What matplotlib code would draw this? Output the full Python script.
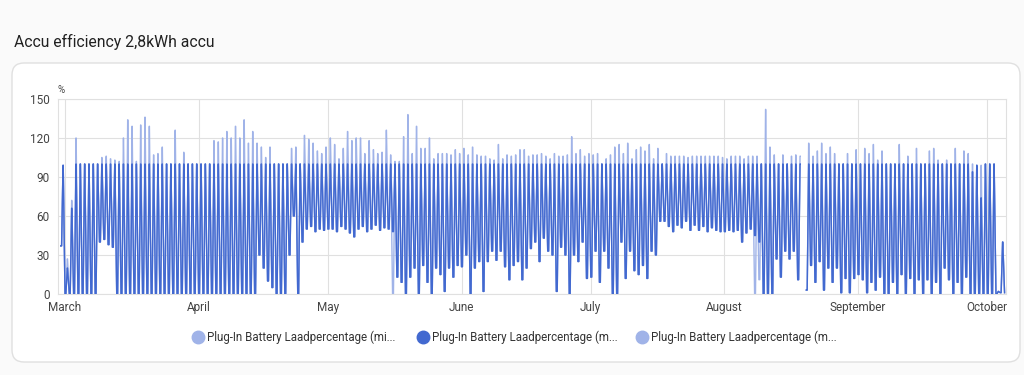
import matplotlib
matplotlib.use("Agg")
import matplotlib.pyplot as plt
import matplotlib.dates as mdates
from matplotlib.patches import FancyBboxPatch
import numpy as np
import pandas as pd

plt.rcParams['font.family'] = ['Roboto', 'DejaVu Sans']

title = "Accu efficiency 2,8kWh accu"
unit = "%"
legend_labels = ["Plug-In Battery Laadpercentage (mi...",
                 "Plug-In Battery Laadpercentage (m...",
                 "Plug-In Battery Laadpercentage (m..."]
start_date = "2023-02-28"
y_ticks = [0, 30, 60, 90, 120, 150]

nan = float('nan')

# daily low of the mean series (Feb 28 .. Oct 4)
daily_low = [
    37,  # Feb 28
    # March
    0, 0, 0, 0, 0, 0, 0, 0, 40, 42, 38, 36, 0, 0, 0, 0, 0, 0, 0, 0, 0, 0, 0, 0, 0, 0, 0, 0, 0, 0, 0,
    # April
    0, 0, 0, 0, 0, 0, 0, 0, 0, 0, 0, 0, 0, 0, 30, 20, 10, 5, 0, 0, 0, 30, 60, 0, 40, 50, 52, 48, 50, 49,
    # May
    50, 50, 48, 52, 50, 47, 44, 50, 52, 48, 50, 53, 49, 51, 50, 48, 13, 9, 0, 13, 20, 0, 22, 9, 0, 20, 15, 2, 20, 13, 22,
    # June
    21, 30, 0, 20, 25, 2, 25, 33, 26, 33, 21, 11, 22, 25, 11, 20, 35, 40, 25, 43, 33, 30, 2, 36, 30, 0, 30, 25, 40, 12,
    # July
    13, 33, 9, 33, 20, 0, 0, 40, 12, 33, 18, 15, 22, 12, 33, 30, 56, 56, 52, 48, 53, 51, 56, 49, 53, 49, 52, 48, 51, 49, 48,
    # August
    48, 49, 48, 49, 40, 47, 50, 45, 40, 0, 0, 0, 27, 13, 33, 27, 33, 11, nan, 3, 22, 9, 25, 3, 20, 9, 20, 1, 12, 1, 12,
    # September
    15, 11, 1, 9, 3, 13, 0, 0, 9, 0, 15, 0, 12, 0, 11, 0, 11, 0, 9, 0, 20, 11, 0, 9, 0, 13, 0, 0, 0, 0,
    # October
    0, 0, 0, 1,
]

# daily high of the mean series
daily_high = (
    [99]                                   # Feb 28
    + [20, 66] + [100] * 29                # March
    + [100] * 30                           # April
    + [100] * 31                           # May
    + [100] * 30                           # June
    + [100] * 31                           # July
    + [100] * 18 + [nan] + [100] * 12      # August
    + [100] * 26 + [94, 99, 74, 100]       # September
    + [100, 100, 2, 40]                    # October
)

# daily peak of the max series
daily_peak = [
    99,  # Feb 28
    # March
    27, 72, 120, 100, 100, 100, 100, 100, 105, 106, 104, 103, 102, 120, 134, 129, 102, 130, 136, 129,
    107, 108, 113, 100, 100, 126, 100, 109, 100, 100, 100,
    # April
    100, 100, 100, 118, 117, 120, 125, 120, 129, 120, 134, 116, 125, 116, 113, 105, 113, 100, 100, 100,
    100, 112, 113, 100, 122, 119, 116, 110, 108, 113,
    # May
    120, 115, 104, 112, 125, 118, 120, 120, 108, 118, 111, 108, 109, 126, 107, 102, 102, 121, 138, 108,
    129, 112, 112, 120, 104, 108, 108, 108, 107, 111, 108,
    # June
    112, 107, 113, 107, 106, 106, 104, 103, 115, 104, 107, 106, 107, 111, 111, 106, 107, 107, 108, 106,
    104, 108, 106, 106, 107, 121, 108, 111, 106, 108,
    # July
    107, 108, 100, 104, 107, 113, 115, 108, 116, 104, 111, 113, 110, 115, 104, 112, 100, 108, 106, 106,
    106, 106, 105, 106, 106, 106, 106, 106, 106, 106, 105,
    # August
    104, 106, 106, 106, 104, 106, 106, 106, 100, 142, 113, 107, 100, 107, 100, 106, 107, 106, nan, 116,
    106, 110, 116, 108, 113, 108, 100, 100, 108, 100, 111,
    # September
    100, 112, 108, 115, 103, 110, 100, 100, 100, 115, 100, 106, 100, 112, 100, 100, 110, 112, 103, 100,
    103, 100, 112, 100, 110, 108, 100, 99, 99, 100,
    # October
    100, 100, 2, 40,
]

# days where the min series dips below the mean series
dip_dates = ["2023-03-25", "2023-05-16", "2023-08-08", "2023-08-09", "2023-09-10"]
dip_values = [0, 0, 0, 11, 0]

days = pd.date_range(start_date, periods=len(daily_low), freq="D")

min_low = list(daily_low)
for dd, dv in zip(dip_dates, dip_values):
    idx = int((pd.Timestamp(dd) - days[0]).days)
    min_low[idx] = dv


def build(lo, hi):
    t, v = [], []
    for i, d in enumerate(days):
        t += [d, d + pd.Timedelta(hours=5), d + pd.Timedelta(hours=13),
              d + pd.Timedelta(hours=14)]
        v += [lo[i], lo[i], hi[i], hi[i]]
    t.append(days[-1] + pd.Timedelta(hours=24))
    v.append(lo[-1])
    return t, v


color_dark = "#4269d0"
color_light = "#a0b3e8"

fig = plt.figure(figsize=(10.24, 3.75), dpi=100, facecolor="#fafafa")

bg = fig.add_axes([0, 0, 1, 1], zorder=-1)
bg.set_xlim(0, 1024)
bg.set_ylim(375, 0)
bg.axis("off")
card = FancyBboxPatch((12, 63), 1008, 299, boxstyle="round,pad=0,rounding_size=12",
                      facecolor="white", edgecolor="#e0e0e0", lw=1)
bg.add_patch(card)
bg.text(14, 42, title, fontsize=11.3, va="center", ha="left", color="#212121")
bg.text(58, 90, unit, fontsize=7, va="center", ha="left", color="#444444")

ax = fig.add_axes([58 / 1024, 1 - 294 / 375, (1006 - 58) / 1024, (294 - 99) / 375])
ax.set_facecolor("none")

t_max, v_max = build(daily_low, daily_peak)
t_min, v_min = build(min_low, daily_high)
t_mean, v_mean = build(daily_low, daily_high)
ax.plot(t_max, v_max, color=color_light, lw=1.0, zorder=2)
ax.plot(t_min, v_min, color=color_light, lw=1.0, zorder=2)
ax.plot(t_mean, v_mean, color=color_dark, lw=1.0, zorder=3)

ax.set_ylim(0, 150)
ax.set_yticks(y_ticks)
ax.set_xlim(pd.Timestamp("2023-02-27 09:00"), pd.Timestamp("2023-10-05 08:00"))
ax.xaxis.set_major_locator(mdates.MonthLocator())
ax.xaxis.set_major_formatter(mdates.DateFormatter("%B"))
ax.grid(True, color="#e0e0e0", lw=0.8, zorder=0)
ax.set_axisbelow(True)
for s in ax.spines.values():
    s.set_color("#e0e0e0")
    s.set_linewidth(0.8)
ax.tick_params(axis="both", length=0, labelsize=8.5, colors="#444444")
ax.tick_params(axis="y", pad=6)
ax.tick_params(axis="x", pad=5)

# legend
leg_x = [198, 423, 642]
leg_colors = [color_light, color_dark, color_light]
for lx, lc, lab in zip(leg_x, leg_colors, legend_labels):
    bg.plot([lx], [337], marker="o", markersize=9, color=lc, markeredgecolor=lc)
    bg.text(lx + 9, 337, lab, fontsize=8.3, va="center", ha="left", color="#333333")

fig.savefig("out.png", dpi=100, facecolor=fig.get_facecolor())
